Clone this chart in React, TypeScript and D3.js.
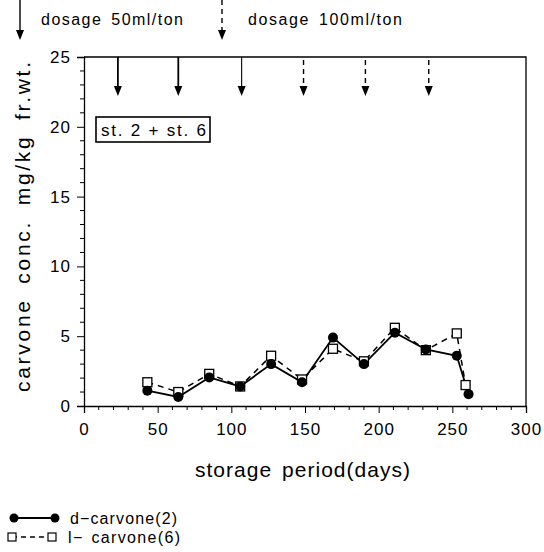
import React, { useEffect, useRef } from 'react';
import * as d3 from 'd3';

const days = [43, 64, 85, 106, 127, 148, 169, 190, 211, 232, 253, 261];
const dCarvone = [1.1, 0.65, 2.05, 1.4, 3.0, 1.7, 4.9, 3.0, 5.25, 4.05, 3.6, 0.85];
const lDays = [43, 64, 85, 106, 127, 148, 169, 190, 211, 232, 253, 259];
const lCarvone = [1.7, 1.0, 2.3, 1.4, 3.6, 1.9, 4.1, 3.2, 5.6, 4.0, 5.2, 1.5];
const dosage50 = [23, 64, 107];
const dosage100 = [149, 191, 234];
const xTicks = [0, 50, 100, 150, 200, 250, 300];
const yTicks = [0, 5, 10, 15, 20, 25];

const FONT = '"Liberation Sans", Arial, sans-serif';

const App: React.FC = () => {
  const ref = useRef<SVGSVGElement>(null);

  useEffect(() => {
    if (!ref.current) return;
    const svg = d3.select(ref.current);
    svg.selectAll('*').remove();

    const x = d3.scaleLinear().domain([0, 300]).range([84, 526]);
    const y = d3.scaleLinear().domain([0, 25]).range([406, 57]);

    const g = svg.append('g').attr('font-family', FONT).attr('fill', '#000');

    // downward arrow: shaft + filled head
    const arrow = (ax: number, y0: number, tip: number, dashed: boolean, sw: number) => {
      g.append('line')
        .attr('x1', ax).attr('x2', ax).attr('y1', y0).attr('y2', tip - 8)
        .attr('stroke', '#000').attr('stroke-width', sw)
        .attr('stroke-dasharray', dashed ? '5,4' : null);
      g.append('path')
        .attr('d', `M${ax - 4},${tip - 10} L${ax + 4},${tip - 10} L${ax},${tip} Z`)
        .attr('fill', '#000');
    };

    // frame top + right
    g.append('path')
      .attr('d', `M${x(0)},${y(25)} H${x(300)} V${y(0)}`)
      .attr('fill', 'none').attr('stroke', '#000').attr('stroke-width', 1.3);

    // x axis
    const xAxis = d3.axisBottom(x).tickValues(xTicks).tickSize(7).tickPadding(5).tickFormat(d3.format('d'));
    const xa = g.append('g').attr('transform', `translate(0,${y(0)})`).call(xAxis);
    xa.selectAll('text').attr('font-size', 17).attr('font-family', FONT)
      .attr('letter-spacing', 1).attr('dy', '1em');
    xa.select('.domain').attr('stroke-width', 1.3);
    const xMinor = d3.range(10, 300, 10).filter(v => v % 50 !== 0);
    g.append('g').selectAll('line').data(xMinor).enter().append('line')
      .attr('x1', d => x(d)).attr('x2', d => x(d))
      .attr('y1', y(0)).attr('y2', y(0) + 4)
      .attr('stroke', '#000');

    // y axis
    const yAxis = d3.axisLeft(y).tickValues(yTicks).tickSize(7).tickPadding(6).tickFormat(d3.format('d'));
    const ya = g.append('g').attr('transform', `translate(${x(0)},0)`).call(yAxis);
    ya.selectAll('text').attr('font-size', 17).attr('font-family', FONT)
      .attr('letter-spacing', 1);
    ya.select('.domain').attr('stroke-width', 1.3);
    const yMinor = d3.range(1, 25, 1).filter(v => v % 5 !== 0);
    g.append('g').selectAll('line').data(yMinor).enter().append('line')
      .attr('x1', x(0)).attr('x2', x(0) - 4)
      .attr('y1', d => y(d)).attr('y2', d => y(d))
      .attr('stroke', '#000');

    // axis labels
    g.append('text')
      .attr('x', 195).attr('y', 477)
      .attr('font-size', 21)
      .attr('textLength', 215).attr('lengthAdjust', 'spacing')
      .attr('word-spacing', 3)
      .text('storage period(days)');
    g.append('text')
      .attr('transform', `translate(30,392) rotate(-90)`)
      .attr('font-size', 21)
      .attr('textLength', 330).attr('lengthAdjust', 'spacing')
      .attr('word-spacing', 6)
      .text('carvone conc. mg/kg fr.wt.');

    // dosage arrows inside plot
    dosage50.forEach((d, i) => arrow(x(d), y(25), 96, false, i < 2 ? 1.8 : 1.1));
    dosage100.forEach(d => arrow(x(d), y(25) + 3, 96, true, 1.4));

    // header legend
    arrow(20, 0, 40, false, 1.4);
    g.append('text').attr('x', 41).attr('y', 25).attr('font-size', 16)
      .attr('textLength', 142).attr('lengthAdjust', 'spacing')
      .attr('word-spacing', 3).text('dosage 50ml/ton');
    arrow(222, 0, 40, true, 1.4);
    g.append('text').attr('x', 248).attr('y', 25).attr('font-size', 16)
      .attr('textLength', 154).attr('lengthAdjust', 'spacing')
      .attr('word-spacing', 3).text('dosage 100ml/ton');

    // st. box
    g.append('rect').attr('x', 96).attr('y', 117).attr('width', 114).attr('height', 25)
      .attr('fill', 'none').attr('stroke', '#000').attr('stroke-width', 1.6);
    g.append('text').attr('x', 101).attr('y', 136).attr('font-size', 17)
      .attr('textLength', 105).attr('lengthAdjust', 'spacing')
      .text('st. 2 + st. 6');

    // series
    const lPts: [number, number][] = lDays.map((d, i) => [x(d), y(lCarvone[i])]);
    const dPts: [number, number][] = days.map((d, i) => [x(d), y(dCarvone[i])]);
    const line = d3.line();

    g.append('path').attr('d', line(lPts))
      .attr('fill', 'none').attr('stroke', '#000').attr('stroke-width', 1.5)
      .attr('stroke-dasharray', '6,5');
    g.append('path').attr('d', line(dPts))
      .attr('fill', 'none').attr('stroke', '#000').attr('stroke-width', 1.8);

    g.selectAll('.sq').data(lPts).enter().append('rect')
      .attr('x', d => d[0] - 4.5).attr('y', d => d[1] - 4.5)
      .attr('width', 9).attr('height', 9)
      .attr('fill', '#fff').attr('stroke', '#000').attr('stroke-width', 1.3);
    g.selectAll('.ci').data(dPts).enter().append('circle')
      .attr('cx', d => d[0]).attr('cy', d => d[1]).attr('r', 5)
      .attr('fill', '#000');

    // bottom legend
    g.append('line').attr('x1', 14).attr('x2', 55).attr('y1', 518).attr('y2', 518)
      .attr('stroke', '#000').attr('stroke-width', 1.8);
    g.selectAll('.lc').data([14, 55]).enter().append('circle')
      .attr('cx', d => d).attr('cy', 518).attr('r', 4.5).attr('fill', '#000');
    g.append('text').attr('x', 70).attr('y', 524).attr('font-size', 16)
      .attr('textLength', 107).attr('lengthAdjust', 'spacing').text('d\u2212carvone(2)');

    g.append('line').attr('x1', 12).attr('x2', 52).attr('y1', 537).attr('y2', 537)
      .attr('stroke', '#000').attr('stroke-width', 1.3).attr('stroke-dasharray', '5,4');
    g.selectAll('.ls').data([12, 52]).enter().append('rect')
      .attr('x', d => d - 4).attr('y', 533).attr('width', 8).attr('height', 8)
      .attr('fill', '#fff').attr('stroke', '#000').attr('stroke-width', 1.2);
    g.append('text').attr('x', 68).attr('y', 543).attr('font-size', 16)
      .attr('textLength', 112).attr('lengthAdjust', 'spacing')
      .attr('word-spacing', 2).text('l\u2212 carvone(6)');
  }, []);

  return (
    <svg
      ref={ref}
      width={544}
      height={552}
      style={{ position: 'absolute', left: 0, top: 0, background: '#fff' }}
    />
  );
};

export default App;
